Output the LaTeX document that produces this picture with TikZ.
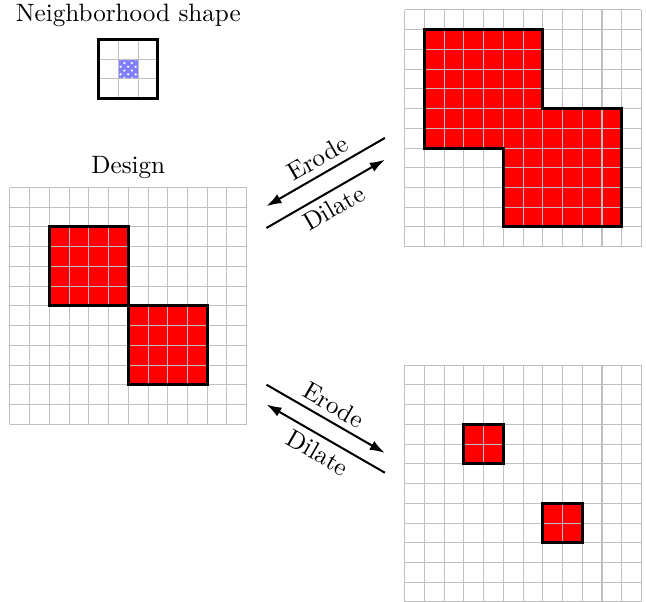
\documentclass[tikz,border=0pt]{standalone}
\usetikzlibrary{arrows.meta,patterns}
\tikzset{
  cellgrid/.style={draw=gray!50, line width=0.4pt, step=1},
  regionfill/.style={fill=red},
  regionedge/.style={draw=black, line width=1.2pt},
  neighcell/.style={preaction={fill=blue!50}, pattern=crosshatch dots, pattern color=white},
  opsarr/.style={-{Latex[length=6pt, width=4pt]}, line width=0.8pt},
  opslabel/.style={sloped, midway, inner sep=2.5pt},
}

\begin{document}
\begin{tikzpicture}[x=0.2761cm, y=0.2761cm]
  \useasboundingbox (0,0) rectangle (32.73,-30.5);
  % ---- neighborhood shape ----
  \begin{scope}[shift={(5,-2)}]
    \fill[neighcell] (1,-1) rectangle (2,-2);
    \draw[cellgrid] (0,0) grid (3,-3);
    \draw[regionedge] (0,0) rectangle (3,-3);
    \coordinate (neightop) at (1.5,0);
  \end{scope}
  \node[above=1.5pt] (neightitle) at (neightop) {Neighborhood shape};
  % ---- design ----
  \begin{scope}[shift={(0.5,-9.5)}]
    \fill[regionfill] (2,-2) rectangle (6,-6) (6,-6) rectangle (10,-10);
    \draw[cellgrid] (0,0) grid (12,-12);
    \draw[regionedge] (2,-2) rectangle (6,-6) (6,-6) rectangle (10,-10);
    \coordinate (designtop) at (6,0);
  \end{scope}
  \node[above] (designtitle) at (designtop) {Design};
  % ---- dilated ----
  \begin{scope}[shift={(20.5,-0.5)}]
    \fill[regionfill] (1,-1) -- (7,-1) -- (7,-5) -- (11,-5) -- (11,-11)
      -- (5,-11) -- (5,-7) -- (1,-7) -- cycle;
    \draw[cellgrid] (0,0) grid (12,-12);
    \draw[regionedge] (1,-1) -- (7,-1) -- (7,-5) -- (11,-5) -- (11,-11)
      -- (5,-11) -- (5,-7) -- (1,-7) -- cycle;
  \end{scope}
  % ---- eroded ----
  \begin{scope}[shift={(20.5,-18.5)}]
    \fill[regionfill] (3,-3) rectangle (5,-5) (7,-7) rectangle (9,-9);
    \draw[cellgrid] (0,0) grid (12,-12);
    \draw[regionedge] (3,-3) rectangle (5,-5) (7,-7) rectangle (9,-9);
  \end{scope}
  % ---- operations ----
  \coordinate (te1) at (19.5,-6.99);
  \coordinate (te2) at (13.5,-10.45);
  \coordinate (td1) at (13.5,-11.55);
  \coordinate (td2) at (19.5,-8.09);
  \coordinate (be1) at (13.5,-19.49);
  \coordinate (be2) at (19.5,-22.95);
  \coordinate (bd1) at (19.5,-23.95);
  \coordinate (bd2) at (13.5,-20.49);
  \draw[opsarr] (te1) -- node[opslabel, above] {Erode} (te2);
  \draw[opsarr] (td1) -- node[opslabel, below] {Dilate} (td2);
  \draw[opsarr] (be1) -- node[opslabel, above] {Erode} (be2);
  \draw[opsarr] (bd1) -- node[opslabel, below] {Dilate} (bd2);
\end{tikzpicture}
\end{document}
